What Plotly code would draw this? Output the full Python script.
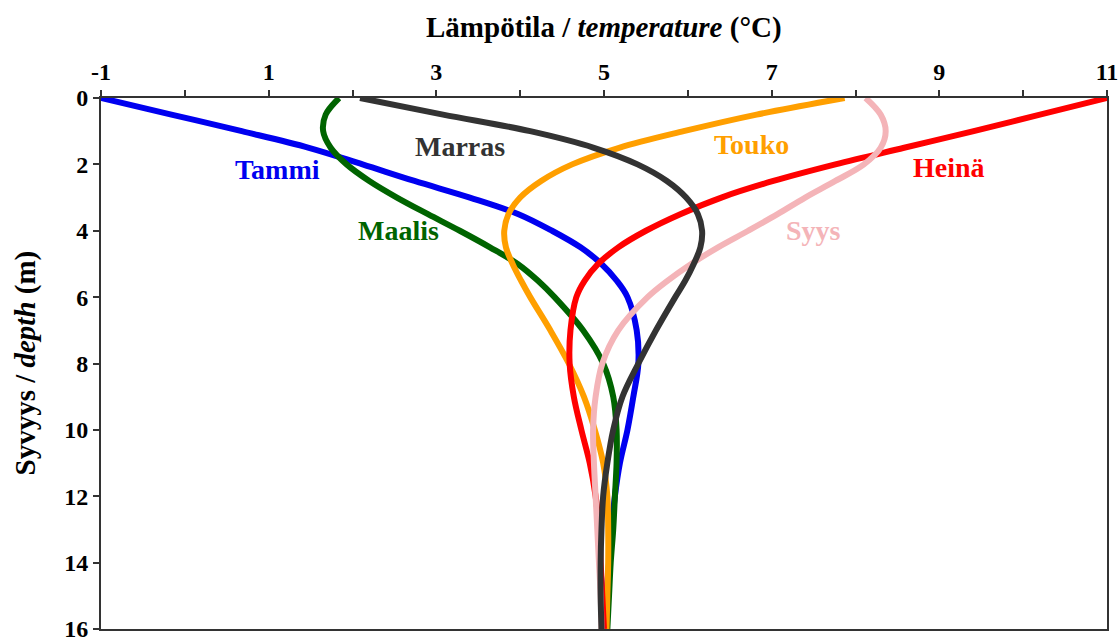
import plotly.graph_objects as go

depth = [0, 0.5, 1, 1.5, 2, 2.5, 3, 3.5, 4, 4.5, 5, 5.5, 6, 7, 8, 9, 10, 11, 12, 13, 14, 15, 16]

tammi  = [-1.0, -0.16, 0.68, 1.48, 2.12, 2.74, 3.40, 3.98, 4.38, 4.72, 4.97, 5.15, 5.28, 5.39, 5.41, 5.35, 5.28, 5.19, 5.13, 5.09, 5.06, 5.03, 5.01]
maalis = [1.84, 1.68, 1.65, 1.74, 1.93, 2.20, 2.53, 2.90, 3.28, 3.64, 3.97, 4.21, 4.41, 4.75, 4.99, 5.11, 5.15, 5.15, 5.13, 5.11, 5.08, 5.06, 5.04]
touko  = [7.87, 6.82, 5.95, 5.18, 4.62, 4.25, 4.00, 3.86, 3.81, 3.83, 3.91, 4.01, 4.12, 4.36, 4.58, 4.76, 4.89, 4.99, 5.04, 5.05, 5.05, 5.04, 5.03]
heina  = [11.0, 10.2, 9.41, 8.58, 7.76, 7.02, 6.40, 5.91, 5.50, 5.17, 4.93, 4.77, 4.67, 4.60, 4.59, 4.64, 4.73, 4.83, 4.90, 4.94, 4.96, 4.98, 5.00]
syys   = [8.12, 8.30, 8.36, 8.30, 8.10, 7.76, 7.40, 7.07, 6.72, 6.36, 6.04, 5.76, 5.52, 5.17, 4.98, 4.90, 4.87, 4.88, 4.90, 4.92, 4.94, 4.96, 4.97]
marras = [2.09, 3.08, 4.12, 4.88, 5.40, 5.75, 5.98, 6.12, 6.17, 6.15, 6.07, 5.97, 5.85, 5.62, 5.41, 5.22, 5.11, 5.04, 4.99, 4.97, 4.96, 4.96, 4.97]

names  = ["Tammi", "Maalis", "Touko", "Heinä", "Syys", "Marras"]
series = [tammi, maalis, touko, heina, syys, marras]
colors = ["#0000F0", "#006400", "#FF9F00", "#FF0000", "#F4B4B8", "#333333"]
label_x = [1.10, 2.55, 6.76, 9.11, 7.50, 3.28]
label_d = [2.15, 3.98, 1.40, 2.10, 3.98, 1.45]

x_ticks = list(range(-1, 12))
x_ticktext = [str(v) if v % 2 != 0 else "" for v in x_ticks]
y_ticks = list(range(0, 17, 2))

FONT = "Liberation Serif"

W, H = 1120, 643
ML, MR, MT, MB = 101, 13, 98, 14
PW, PH = W - ML - MR, H - MT - MB

fig = go.Figure()
for name, vals, col in zip(names, series, colors):
    fig.add_trace(go.Scatter(
        x=vals, y=depth, mode="lines", name=name,
        line=dict(color=col, width=6, shape="spline", smoothing=1.0),
        showlegend=False, hoverinfo="skip"))

annotations = []
for name, col, lx, ld in zip(names, colors, label_x, label_d):
    annotations.append(dict(x=lx, y=ld, xref="x", yref="y", text="<b>%s</b>" % name,
                            showarrow=False, font=dict(family=FONT, size=28, color=col),
                            xanchor="center", yanchor="middle"))

annotations.append(dict(x=0.5, y=1 + (MT - 28) / PH, xref="paper", yref="paper",
                        text="<b>Lämpötila / <i>temperature</i> (°C)</b>", showarrow=False,
                        font=dict(family=FONT, size=29, color="black"),
                        xanchor="center", yanchor="middle"))
annotations.append(dict(x=(25 - ML) / PW, y=0.5, xref="paper", yref="paper",
                        text="<b>Syvyys / <i>depth</i> (m)</b>", showarrow=False, textangle=-90,
                        font=dict(family=FONT, size=29, color="black"),
                        xanchor="center", yanchor="middle"))

axis_common = dict(ticks="outside", ticklen=6, tickwidth=2, tickcolor="#333",
                   showline=True, linecolor="#333", linewidth=2, mirror=True,
                   showgrid=False, zeroline=False, ticklabeloverflow="allow",
                   automargin=False,
                   tickfont=dict(family=FONT, size=24, color="black", weight="bold"))

fig.update_layout(
    width=W, height=H,
    margin=dict(l=ML, r=MR, t=MT, b=MB, autoexpand=False),
    paper_bgcolor="white", plot_bgcolor="white",
    annotations=annotations,
    xaxis=dict(side="top", range=[-1, 11], tickmode="array", tickvals=x_ticks,
               ticktext=x_ticktext, **axis_common),
    yaxis=dict(range=[16, 0], tickmode="array", tickvals=y_ticks, **axis_common),
)

fig.write_html("out.html", config={"displayModeBar": False},
               post_script="document.body.style.margin='0';document.body.style.overflow='hidden';")
